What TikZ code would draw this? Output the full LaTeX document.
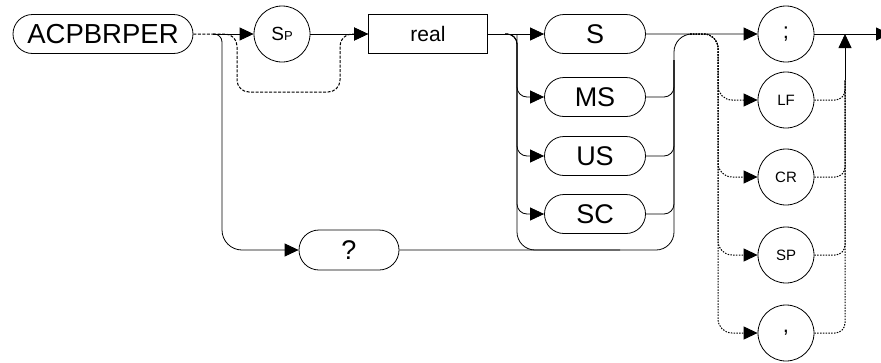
\documentclass[tikz,border=0pt]{standalone}
\usepackage{fontspec}
\setmainfont{Liberation Sans}
\usetikzlibrary{shapes.misc,arrows.meta}

\begin{document}
\begin{tikzpicture}[x=1pt,y=-1pt,line width=0.8pt,>={Triangle[length=14pt,width=13pt]},
    kw/.style={draw,rounded rectangle,minimum height=39pt,inner sep=0pt,font=\fontsize{27}{27}\selectfont},
    ch/.style={draw,circle,minimum size=56pt,inner sep=0pt,font=\fontsize{15}{15}\selectfont},
    skip/.style={line width=1pt,dash pattern=on 3pt off 1.5pt},
    term/.style={line width=1pt,dash pattern=on 1.5pt off 1.3pt}]
      \useasboundingbox (0,0) rectangle (881,362);

      \node[kw,minimum width=180pt,font=\fontsize{27.5}{27.5}\selectfont] (cmd) at (103,34) {ACPBRPER};
      \node[ch] (sp) at (282,34) {\fontsize{19}{19}\selectfont S\fontsize{13}{13}\selectfont P};
      \node[draw,minimum width=119pt,minimum height=39pt,font=\fontsize{21}{21}\selectfont] (real) at (428,34) {real};
      \node[kw,minimum width=101pt] (s) at (595,34) {S};
      \node[kw,minimum width=101pt] (ms) at (595,97) {MS};
      \node[kw,minimum width=101pt] (us) at (595,156) {US};
      \node[kw,minimum width=101pt] (sc) at (595,214) {SC};
      \node[kw,minimum width=100pt,minimum height=40pt] (qry) at (349,250) {?};
      \node[ch,font=\fontsize{22}{22}\selectfont] (semi) at (786,34) {;};
      \node[ch] (lf) at (786,100) {LF};
      \node[ch] (cr) at (786,177) {CR};
      \node[ch] (spc) at (786,255) {SP};
      \node[ch,font=\fontsize{22}{22}\selectfont] (comma) at (786,333) {,};

      \coordinate (j1) at (213,34);
      \coordinate (j2) at (222,34);
      \coordinate (b1) at (237,92);
      \coordinate (b2) at (340,34);
      \coordinate (kj) at (505,34);
      \coordinate (kl) at (517,34);
      \coordinate (kb) at (620,250);
      \coordinate (kv) at (674,60);
      \coordinate (kr) at (674,34);
      \coordinate (tj) at (690,34);
      \coordinate (tl) at (718,34);
      \coordinate (rt) at (845,80);
      \coordinate (rm) at (845,34);
      \coordinate (fin) at (890,34);

      \draw[skip] (cmd) -- (j1);
      \draw[->] (j1) -- (sp);
      \draw[->,rounded corners=8pt] (j1) -- (j2) [rounded corners=20pt] |- (qry.west);
      \draw[->,skip,rounded corners=12pt] (j1) -| (b1) -| (b2) -- (real.west);
      \draw[->] (sp) -- (real);

      \draw[->] (real) -- (s);
      \draw[->,rounded corners=10pt] (kj) -- (kl) |- (ms.west);
      \draw[->,rounded corners=10pt] (kj) -- (kl) |- (us.west);
      \draw[->,rounded corners=10pt] (kj) -- (kl) |- (sc.west);
      \draw[rounded corners=18pt] (kl) |- (kb);
      \draw[rounded corners=10pt] (ms.east) -| (kv);
      \draw[rounded corners=10pt] (us.east) -| (kv);
      \draw[rounded corners=10pt] (sc.east) -| (kv);
      \draw[rounded corners=18pt] (qry.east) -| (kr) [rounded corners=8pt] -- (tj);

      \draw[->] (s) -- (semi);
      \draw[->,term,rounded corners=14pt] (tj) -- (tl) |- (lf.west);
      \draw[->,term,rounded corners=14pt] (tj) -- (tl) |- (cr.west);
      \draw[->,term,rounded corners=14pt] (tj) -- (tl) |- (spc.west);
      \draw[->,term,rounded corners=14pt] (tj) -- (tl) |- (comma.west);
      \draw[term,rounded corners=10pt] (lf.east) -| (rt);
      \draw[term,rounded corners=10pt] (cr.east) -| (rt);
      \draw[term,rounded corners=10pt] (spc.east) -| (rt);
      \draw[term,rounded corners=10pt] (comma.east) -| (rt);
      \draw[->] (rt) -- (rm);
      \draw[->] (semi) -- (fin);
\end{tikzpicture}
\end{document}
